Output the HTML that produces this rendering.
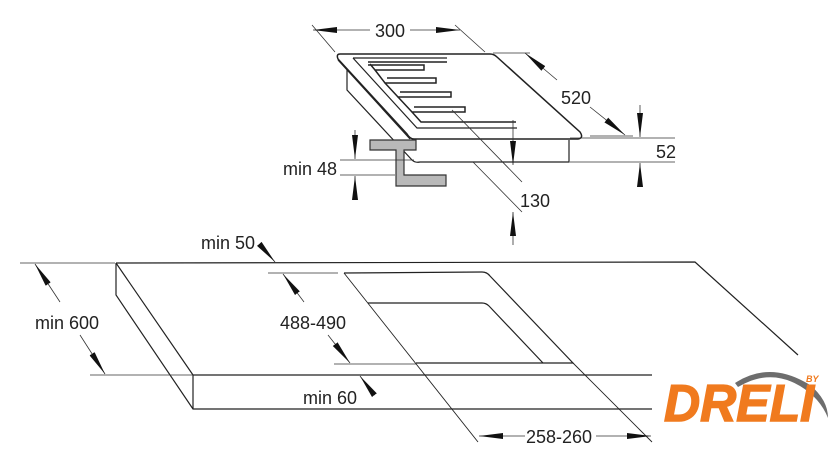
<!DOCTYPE html>
<html><head><meta charset="utf-8"><style>
html,body{margin:0;padding:0;background:#fff}
svg{display:block}
text{font-family:"Liberation Sans Narrow","Liberation Sans",sans-serif;font-size:18px;fill:#222}
</style></head><body>
<svg width="840" height="466" viewBox="0 0 840 466" xmlns="http://www.w3.org/2000/svg">
<defs>
<marker id="a" viewBox="0 0 24 8" refX="24" refY="4" markerWidth="24" markerHeight="8" markerUnits="userSpaceOnUse" orient="auto">
<path d="M0,1 L24,4 L0,7 Z" fill="#111"/></marker>
</defs>
<g fill="none" stroke="#222" stroke-width="1.2">
<path d="M116,263 L695,262 L798,355"/>
<path d="M116,263 L193,375 L652,375"/>
<path d="M116,263 L116,295 L193,409 L652,409"/>
<path d="M193,375 L193,409"/>
<path d="M344,273 L482,272 Q487,272 490,276 L573,363 L416,363"/>
<path d="M344,273 L478,442" stroke-width="0.9"/>
<path d="M573,363 L652,442" stroke-width="0.9"/>
<path d="M368,303 L482,303 Q486,303 489,306 L543,363"/>
<path d="M340,54 L490,54 Q494,54 497,57 L580,132 Q584,138 578,139 L414,139 Q410,139 407,134 L338,59 Q336,54 340,54 Z" stroke-width="1.5"/>
<path d="M338,60 L410,139"/>
<path d="M347,70 L347,90 L412,160 Q415,163 420,162 L569,162 L569,140"/>
<path d="M353,58 L447,58 M353,58 L417,128 L517,128"/>
<g stroke-width="1.5">
<path d="M368,62 L447,62"/>
<path d="M370,64 L375,70 L424,70 L424,65 L368,65" />
<path d="M375,70 L385,83 L436,83 L436,78 L387,78"/>
<path d="M385,83 L398,97 L451,97 L451,92 L400,92"/>
<path d="M398,97 L412,112 L465,112 L465,107 L414,107"/>
<path d="M412,112 L421,122 L516,122"/>
</g>
</g>
<path d="M370,140 L416,140 L416,150 L404,150 L404,175 L446,175 L446,186 L396,186 L396,150 L370,150 Z" fill="#b9b9b9" stroke="#333" stroke-width="1.2"/>
<g fill="none" stroke="#333" stroke-width="0.8">
<path d="M312,25 L335,52 M455,25 L485,52"/>
<path d="M370,30 L313,30" marker-end="url(#a)"/>
<path d="M410,30 L460,30" marker-end="url(#a)"/>
<path d="M493,53 L530,53 M590,136 L633,136"/>
<path d="M557,80 L525,53" marker-end="url(#a)"/>
<path d="M590,107 L625,135" marker-end="url(#a)"/>
<path d="M570,138 L675,138 M570,162 L675,162"/>
<path d="M640,105 L640,137" marker-end="url(#a)"/>
<path d="M640,186 L640,163" marker-end="url(#a)"/>
<path d="M340,160 L414,160 M340,175 L395,175"/>
<path d="M355,130 L355,159" marker-end="url(#a)"/>
<path d="M355,200 L355,176" marker-end="url(#a)"/>
<path d="M452,110 L522,182 M473,162 L522,212"/>
<path d="M513,120 L513,165" marker-end="url(#a)"/>
<path d="M513,245 L513,212" marker-end="url(#a)"/>
<path d="M20,263 L115,263 M90,375 L193,375"/>
<path d="M60,302 L35,264" marker-end="url(#a)"/>
<path d="M80,335 L105,374" marker-end="url(#a)"/>
<path d="M268,273 L338,273 M334,364 L416,364"/>
<path d="M304,302 L283,274" marker-end="url(#a)"/>
<path d="M328,335 L350,363" marker-end="url(#a)"/>
<path d="M262,247 L275,262" marker-end="url(#a)"/>
<path d="M372,392 L360,376" marker-end="url(#a)"/>
<path d="M525,436 L479,436" marker-end="url(#a)"/>
<path d="M596,436 L651,436" marker-end="url(#a)"/>
</g>
<text x="375" y="37">300</text>
<text x="561" y="104">520</text>
<text x="656" y="158">52</text>
<text x="283" y="175">min 48</text>
<text x="520" y="207">130</text>
<text x="201" y="249">min 50</text>
<text x="35" y="329">min 600</text>
<text x="280" y="329">488-490</text>
<text x="303" y="404">min 60</text>
<text x="526" y="443">258-260</text>
<path d="M735,383 Q770,360 810,385 Q828,400 828,418 Q820,398 800,386 Q770,368 738,387 Z" fill="#6d6d6d"/>
<text x="664" y="421" style="font-family:'Liberation Sans',sans-serif;font-weight:bold;font-style:italic;font-size:52px;fill:#f07a1e;stroke:#f07a1e;stroke-width:1.5" textLength="150" lengthAdjust="spacingAndGlyphs">DRELI</text>
<text x="806" y="382" style="font-family:'Liberation Sans',sans-serif;font-weight:bold;font-style:italic;font-size:9px;fill:#f07a1e">BY</text>
</svg>
</body></html>
